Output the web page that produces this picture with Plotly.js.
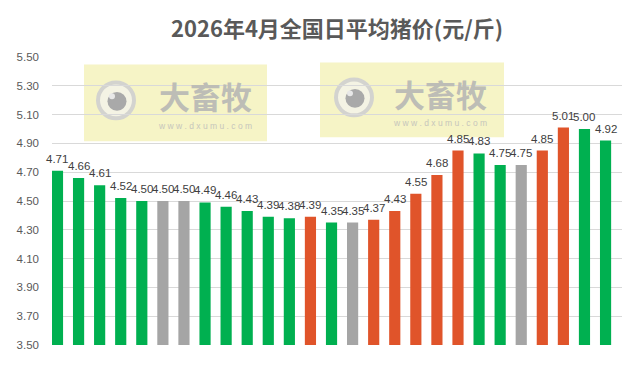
<!DOCTYPE html>
<html>
<head>
<meta charset="utf-8">
<script src="https://cdn.plot.ly/plotly-3.0.1.min.js"></script>
<style>html,body{margin:0;padding:0;background:#fff;}#chart{width:640px;height:365px;}</style>
</head>
<body>
<div id="chart"></div>
<script>
// Data
const days = ['1','2','3','4','5','6','7','8','9','10','11','12','13','14','15','16','17','18','19','20','21','22','23','24','25','26','27'];
const prices = [4.71,4.66,4.61,4.52,4.50,4.50,4.50,4.49,4.46,4.43,4.39,4.38,4.39,4.35,4.35,4.37,4.43,4.55,4.68,4.85,4.83,4.75,4.75,4.85,5.01,5.00,4.92];
// trend: d = down (green), f = flat (gray), u = up (orange)
const trend = ['d','d','d','d','d','f','f','d','d','d','d','d','u','d','f','u','u','u','u','u','d','d','f','u','u','d','d'];
const yTicks = [3.50,3.70,3.90,4.10,4.30,4.50,4.70,4.90,5.10,5.30,5.50];
const titleText = '2026年4月全国日平均猪价(元/斤)';

const colorMap = {d:'#00B050', f:'#A5A5A5', u:'#E0542A'};
const W = 640, H = 365;
const L = 52, R = 622, T = 56.5, B = 345.5;
const px = x => (x - L) / (R - L);
const py = y => (B - y) / (B - T);

const xs = days.map((d, i) => i);

const trace = {
  type: 'bar',
  x: xs,
  y: prices.map(v => v - 3.5),
  base: 3.5,
  width: 0.53,
  marker: {color: trend.map(t => colorMap[t])},
  hoverinfo: 'none'
};

const annotations = prices.map((v, i) => ({
  x: xs[i], y: v, xref: 'x', yref: 'y',
  text: v.toFixed(2), showarrow: false,
  yanchor: 'bottom', xanchor: 'center', yshift: 4,
  font: {family: 'Liberation Sans, Arial, sans-serif', size: 11.5, color: '#404040'}
}));

// watermarks (decoration)
const shapes = [];
function watermark(x0, y0, x1, y1, cx, cy, tx, ty) {
  shapes.push({type:'rect', xref:'paper', yref:'paper', layer:'below',
    x0:px(x0), x1:px(x1), y0:py(y1), y1:py(y0), fillcolor:'#F6F4C6', line:{width:0}});
  const r = 18;
  shapes.push({type:'circle', xref:'paper', yref:'paper', layer:'below',
    x0:px(cx-r), x1:px(cx+r), y0:py(cy+r), y1:py(cy-r), fillcolor:'#F4F3E4', line:{color:'#D3D3CF', width:4}});
  const r2 = 9.5;
  shapes.push({type:'circle', xref:'paper', yref:'paper', layer:'below',
    x0:px(cx-r2+1), x1:px(cx+r2+1), y0:py(cy+r2+1), y1:py(cy-r2+1), fillcolor:'#A9A9A9', line:{width:0}});
  const r3 = 3;
  shapes.push({type:'circle', xref:'paper', yref:'paper', layer:'below',
    x0:px(cx-4-r3), x1:px(cx-4+r3), y0:py(cy-4+r3), y1:py(cy-4-r3), fillcolor:'#E8E8E8', line:{width:0}});
  annotations.push({xref:'paper', yref:'paper', x:px(tx), y:py(ty), xanchor:'center', yanchor:'middle',
    text:'大畜牧', showarrow:false,
    font:{family:'Noto Sans CJK SC, sans-serif', size:31, color:'#BDBDB6', weight:700}});
  annotations.push({xref:'paper', yref:'paper', x:px(tx), y:py(cy+26), xanchor:'center', yanchor:'middle',
    text:'w w w . d x u m u . c o m', showarrow:false,
    font:{family:'Liberation Sans, sans-serif', size:8.5, color:'#C6C6BC'}});
}
watermark(84, 64, 267, 141, 116, 100, 205, 95);
watermark(320, 62, 504, 137, 354, 97, 440, 93);

const layout = {
  width: W, height: H,
  margin: {l: L, r: W - R, t: T, b: H - B, pad: 0},
  paper_bgcolor: '#FFFFFF',
  plot_bgcolor: 'rgba(0,0,0,0)',
  showlegend: false,
  title: {
    text: titleText, x: 0.5, xref: 'paper', xanchor: 'center', y: 1 - 29 / H, yref: 'container', yanchor: 'middle',
    font: {family: 'Noto Sans CJK SC, sans-serif', size: 22, color: '#595959', weight: 700}
  },
  xaxis: {
    range: [-0.26, 26.78], showticklabels: false, showgrid: false, zeroline: false,
    showline: false, ticks: '', fixedrange: true
  },
  yaxis: {
    range: [3.5, 5.5], tickvals: yTicks, ticktext: yTicks.map(v => v.toFixed(2)),
    showgrid: true, gridcolor: '#D9D9D9', gridwidth: 1, zeroline: false, showline: false,
    ticks: '', ticklabelstandoff: 12,
    tickfont: {family: 'Liberation Sans, Arial, sans-serif', size: 11.5, color: '#595959'}
  },
  shapes: shapes,
  annotations: annotations,
  bargap: 0.47
};

Plotly.newPlot('chart', [trace], layout, {displayModeBar: false, staticPlot: true});
</script>
</body>
</html>
